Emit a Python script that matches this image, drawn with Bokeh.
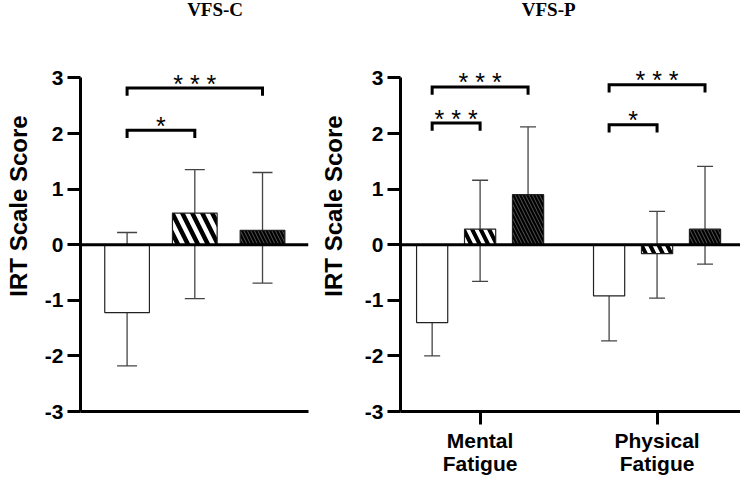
from bokeh.plotting import figure
from bokeh.models import ColumnDataSource, Whisker, TeeHead, Span, FixedTicker, Range1d
from bokeh.layouts import row
from bokeh.embed import file_html
from bokeh.resources import INLINE
from bokeh.core.properties import value

# ---------------- data ----------------
condition_index = [0, 1, 2]

vfsc_mean = [-1.22, 0.57, 0.26]
vfsc_upper = [0.22, 1.35, 1.30]
vfsc_lower = [-2.18, -0.97, -0.69]

vfsp_groups = ["Mental\nFatigue", "Physical\nFatigue"]
vfsp_mental_mean = [-1.40, 0.28, 0.90]
vfsp_mental_upper = [-0.37, 1.16, 2.12]
vfsp_mental_lower = [-2.00, -0.66, 0.90]
vfsp_physical_mean = [-0.92, -0.16, 0.28]
vfsp_physical_upper = [-0.50, 0.60, 1.41]
vfsp_physical_lower = [-1.73, -0.96, -0.35]

vfsc_sig_from = [0, 0]
vfsc_sig_to = [1, 2]
vfsc_sig_y = [2.06, 2.82]
vfsc_sig_text = ["*", "* * *"]

vfsp_sig_group = [0, 0, 1, 1]
vfsp_sig_from = [0, 0, 0, 0]
vfsp_sig_to = [1, 2, 1, 2]
vfsp_sig_y = [2.19, 2.84, 2.16, 2.88]
vfsp_sig_text = ["* * *", "* * *", "*", "* * *"]

y_ticks = [-3, -2, -1, 0, 1, 2, 3]
y_tick_labels = ["-3", "-2", "-1", "0", "1", "2", "3"]

# ---------------- styles ----------------
FONT = "Liberation Sans"
fills = ["white", "white", "black"]
hatches = [None, "\\", "\\"]
hatch_colors = ["black", "black", "#555555"]
GROUP_STEP = 3.69
LEG = 0.14
Y_TOP = 4.394


def style_axes(p, bottom_ticks=None, label_overrides=None, ylabel_standoff=4):
    p.outline_line_color = None
    p.xgrid.visible = False
    p.ygrid.visible = False
    p.background_fill_color = "white"
    p.border_fill_color = "white"
    ya = p.yaxis[0]
    ya.ticker = FixedTicker(ticks=y_ticks)
    ya.major_label_overrides = {t: s for t, s in zip(y_ticks, y_tick_labels)}
    ya.bounds = (-3, 3)
    ya.axis_line_width = 3
    ya.major_tick_line_width = 3
    ya.major_tick_out = 13
    ya.major_tick_in = 0
    ya.minor_tick_line_color = None
    ya.major_label_text_font = FONT
    ya.major_label_text_font_style = "bold"
    ya.major_label_text_font_size = "21px"
    ya.major_label_text_color = "black"
    ya.major_label_standoff = 4
    ya.axis_label = "IRT Scale Score"
    ya.axis_label_text_font = FONT
    ya.axis_label_text_font_style = "bold"
    ya.axis_label_text_font_size = "24px"
    ya.axis_label_text_color = "black"
    ya.axis_label_standoff = ylabel_standoff
    xa = p.xaxis[0]
    xa.axis_line_width = 3
    xa.minor_tick_line_color = None
    xa.ticker = FixedTicker(ticks=bottom_ticks or [])
    xa.major_tick_line_width = 3
    xa.major_tick_out = 13
    xa.major_tick_in = 0
    xa.major_label_text_font = FONT
    xa.major_label_text_font_style = "bold"
    xa.major_label_text_font_size = "21px"
    xa.major_label_text_line_height = 1.0
    xa.major_label_text_color = "black"
    xa.major_label_standoff = 4
    if label_overrides:
        xa.major_label_overrides = label_overrides


def draw_group(p, xs, means, uppers, lowers, width, hscale, hweight, cap):
    for i in condition_index:
        p.vbar(x=[xs[i]], top=[means[i]], bottom=0, width=width,
               fill_color=fills[i], line_color="#222222", line_width=1.2,
               hatch_pattern=hatches[i], hatch_color=hatch_colors[i],
               hatch_scale=hscale[i], hatch_weight=hweight[i])
    src = ColumnDataSource(dict(x=xs, upper=uppers, lower=lowers))
    p.add_layout(Whisker(source=src, base="x", upper="upper", lower="lower",
                         line_color="#444444", line_width=1.3,
                         upper_head=TeeHead(size=cap, line_color="#444444", line_width=1.3),
                         lower_head=TeeHead(size=cap, line_color="#444444", line_width=1.3)))


def draw_brackets(p, x_from, x_to, ys, texts):
    bx = [[a, a, b, b] for a, b in zip(x_from, x_to)]
    by = [[y - LEG, y, y, y - LEG] for y in ys]
    p.multi_line(xs=bx, ys=by, line_color="black", line_width=3, line_join="miter")
    tx = [(a + b) / 2 for a, b in zip(x_from, x_to)]
    ty = [y + 0.08 for y in ys]
    p.text(x=tx, y=ty, text=texts, text_font=value(FONT), text_font_size="25px",
           text_align="center", text_baseline="alphabetic", text_color="black")


# ---------------- left panel: VFS-C ----------------
p1 = figure(width=310, height=482, output_backend="svg", toolbar_location=None,
            x_range=Range1d(-0.688, 2.679), y_range=Range1d(-3, Y_TOP),
            min_border_left=80, min_border_right=2, min_border_top=0, min_border_bottom=71)
style_axes(p1, ylabel_standoff=10)
draw_group(p1, condition_index, vfsc_mean, vfsc_upper, vfsc_lower, 0.66,
           [1, 20, 7], [1, 4.5, 1], 20)
p1.add_layout(Span(location=0, dimension="width", line_color="black", line_width=3))
draw_brackets(p1, [condition_index[i] for i in vfsc_sig_from],
              [condition_index[i] for i in vfsc_sig_to], vfsc_sig_y, vfsc_sig_text)
p1.text(x=[1.30], y=[4.23], text=["VFS-C"], text_font=value("Liberation Serif"),
        text_font_style="bold", text_font_size="19px", text_align="center",
        text_baseline="middle", text_color="black")

# ---------------- right panel: VFS-P ----------------
p2 = figure(width=430, height=482, output_backend="svg", toolbar_location=None,
            x_range=Range1d(-0.660, 6.43), y_range=Range1d(-3, Y_TOP),
            min_border_left=90, min_border_right=0, min_border_top=0, min_border_bottom=71)
group_centers = [g * GROUP_STEP + 1 for g in range(len(vfsp_groups))]
style_axes(p2, bottom_ticks=group_centers,
           label_overrides={c: lab for c, lab in zip(group_centers, vfsp_groups)},
           ylabel_standoff=15)
means_by_group = [vfsp_mental_mean, vfsp_physical_mean]
uppers_by_group = [vfsp_mental_upper, vfsp_physical_upper]
lowers_by_group = [vfsp_mental_lower, vfsp_physical_lower]
for g in range(len(vfsp_groups)):
    xs = [g * GROUP_STEP + i for i in condition_index]
    draw_group(p2, xs, means_by_group[g], uppers_by_group[g], lowers_by_group[g], 0.65,
               [1, 17, 7], [1, 4, 1], 16)
p2.add_layout(Span(location=0, dimension="width", line_color="black", line_width=3))
draw_brackets(p2,
              [g * GROUP_STEP + a for g, a in zip(vfsp_sig_group, vfsp_sig_from)],
              [g * GROUP_STEP + b for g, b in zip(vfsp_sig_group, vfsp_sig_to)],
              vfsp_sig_y, vfsp_sig_text)
p2.text(x=[2.43], y=[4.23], text=["VFS-P"], text_font=value("Liberation Serif"),
        text_font_style="bold", text_font_size="19px", text_align="center",
        text_baseline="middle", text_color="black")

layout = row(p1, p2)
open("out.html", "w").write(file_html(layout, INLINE))
